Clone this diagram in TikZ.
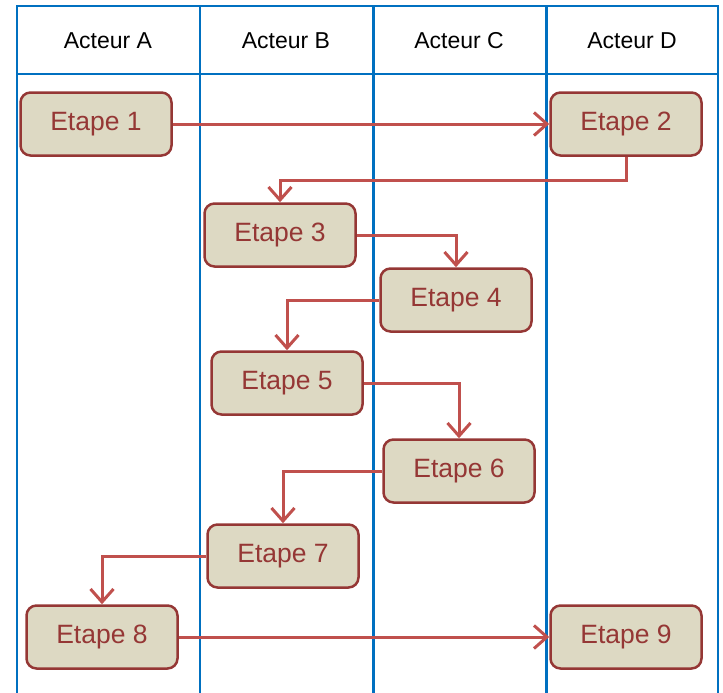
\documentclass[tikz,border=0pt]{standalone}
\usepackage{fontspec}
\setmainfont{Liberation Sans}
\usetikzlibrary{arrows.meta}
\definecolor{lanecol}{HTML}{0070C0}
\definecolor{boxfill}{HTML}{DDD9C3}
\definecolor{boxdraw}{HTML}{953735}
\definecolor{arrcol}{HTML}{C0504D}
\tikzset{
  laneline/.style={draw=lanecol, line width=3pt},
  thinlane/.style={draw=lanecol, line width=2pt},
  header/.style={font=\fontsize{23}{27}\selectfont, text=black},
  stepbox/.style={draw=boxdraw, fill=boxfill, line width=2.5pt, rounded corners=10pt,
    minimum width=151pt, minimum height=63pt, inner sep=0pt,
    font=\fontsize{26.5}{31}\selectfont, text=boxdraw},
  arr/.style={draw=arrcol, line width=3pt, -{Straight Barb[length=13pt,width=23pt,line width=3pt]}}
}
\begin{document}
\begin{tikzpicture}[x=1pt,y=-1pt]
\useasboundingbox (0,0) rectangle (723,693);
% lanes
\draw[thinlane] (17,693) -- (17,6) -- (718,6) -- (718,693);
\draw[thinlane] (17,74) -- (718,74);
\draw[thinlane] (200,6) -- (200,693);
\draw[laneline] (373,6) -- (373,693);
\draw[laneline] (546,6) -- (546,693);
% headers
\node[header] (hA) at (108,41) {Acteur A};
\node[header] (hB) at (286,41) {Acteur B};
\node[header] (hC) at (459,41) {Acteur C};
\node[header] (hD) at (632,41) {Acteur D};
% steps
\node[stepbox] (e1) at (96,124) {Etape 1};
\node[stepbox] (e2) at (626,124) {Etape 2};
\node[stepbox] (e3) at (280,235) {Etape 3};
\node[stepbox] (e4) at (456,300) {Etape 4};
\node[stepbox] (e5) at (287,383) {Etape 5};
\node[stepbox] (e6) at (459,471) {Etape 6};
\node[stepbox] (e7) at (283,556) {Etape 7};
\node[stepbox] (e8) at (102,637) {Etape 8};
\node[stepbox] (e9) at (626,637) {Etape 9};
\coordinate (j23) at (0,180);
% connectors
\draw[arr] (e1) -- (e2);
\draw[arr] (e2.south) -- (e2.south |- j23) -| (e3.north);
\draw[arr] (e3.east) -| (e4.north);
\draw[arr] (e4.west) -| (e5.north);
\draw[arr] (e5.east) -| (e6.north);
\draw[arr] (e6.west) -| (e7.north);
\draw[arr] (e7.west) -| (e8.north);
\draw[arr] (e8) -- (e9);
\end{tikzpicture}
\end{document}
